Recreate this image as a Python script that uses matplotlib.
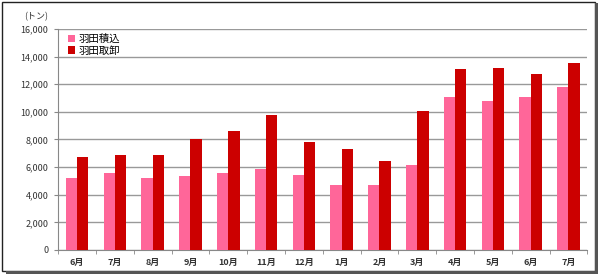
import matplotlib.pyplot as plt
import numpy as np
from matplotlib.patches import Rectangle

plt.rcParams['font.family'] = ['Noto Sans CJK JP', 'DejaVu Sans']

months = ['6月', '7月', '8月', '9月', '10月', '11月', '12月', '1月', '2月', '3月', '4月', '5月', '6月', '7月']
loading = [5200, 5580, 5220, 5360, 5600, 5870, 5430, 4710, 4710, 6160, 11090, 10800, 11090, 11810]
unloading = [6720, 6880, 6860, 8020, 8580, 9760, 7830, 7320, 6450, 10070, 13120, 13190, 12750, 13560]
series_names = ['羽田積込', '羽田取卸']
yticks = np.arange(0, 16001, 2000)

fig = plt.figure(figsize=(6, 2.75), dpi=100)
ax = fig.add_axes([0.097, 0.091, 0.882, 0.804])

x = np.arange(len(months))
w = 0.3
ax.bar(x - w / 2, loading, w, color='#FF6699', label=series_names[0], zorder=3)
ax.bar(x + w / 2, unloading, w, color='#CC0000', label=series_names[1], zorder=3)

ax.set_xlim(-0.5, len(months) - 0.5)
ax.set_ylim(0, 16000)
ax.set_yticks(yticks)
ax.set_yticklabels([f'{v:,}' for v in yticks], fontsize=6.5, color='#333333')
ax.yaxis.grid(True, color='#999999', linewidth=1, zorder=0)

ax.set_xticks(x)
ax.set_xticklabels(months, fontsize=6.5, fontweight='bold', color='#333333')
ax.set_xticks(np.arange(-0.5, len(months)), minor=True)
ax.tick_params(axis='x', which='major', length=0, pad=6)
ax.tick_params(axis='x', which='minor', length=3, color='#888888', direction='out')
ax.tick_params(axis='y', length=3, color='#888888', pad=4)

for s in ['top', 'right']:
    ax.spines[s].set_visible(False)
for s in ['left', 'bottom']:
    ax.spines[s].set_color('#888888')

ax.legend(loc='upper left', bbox_to_anchor=(0.005, 1.01), frameon=False, fontsize=7.5,
          handlelength=0.7, handleheight=0.7, handletextpad=0.3, labelspacing=0.15,
          borderaxespad=0.3)

fig.text(0.04, 0.94, '(トン)', fontsize=6.5, color='#333333', va='center')

# outer frame with shadow
fig.patches.append(Rectangle((0.003, 0.014), 0.988, 0.98, transform=fig.transFigure,
                             fill=False, edgecolor='#222222', linewidth=1))
fig.patches.append(Rectangle((0.992, 0.01), 0.004, 0.978, transform=fig.transFigure,
                             facecolor='#555555', edgecolor='none'))
fig.patches.append(Rectangle((0.01, 0.003), 0.986, 0.011, transform=fig.transFigure,
                             facecolor='#555555', edgecolor='none'))

fig.savefig('out.png', dpi=100)
